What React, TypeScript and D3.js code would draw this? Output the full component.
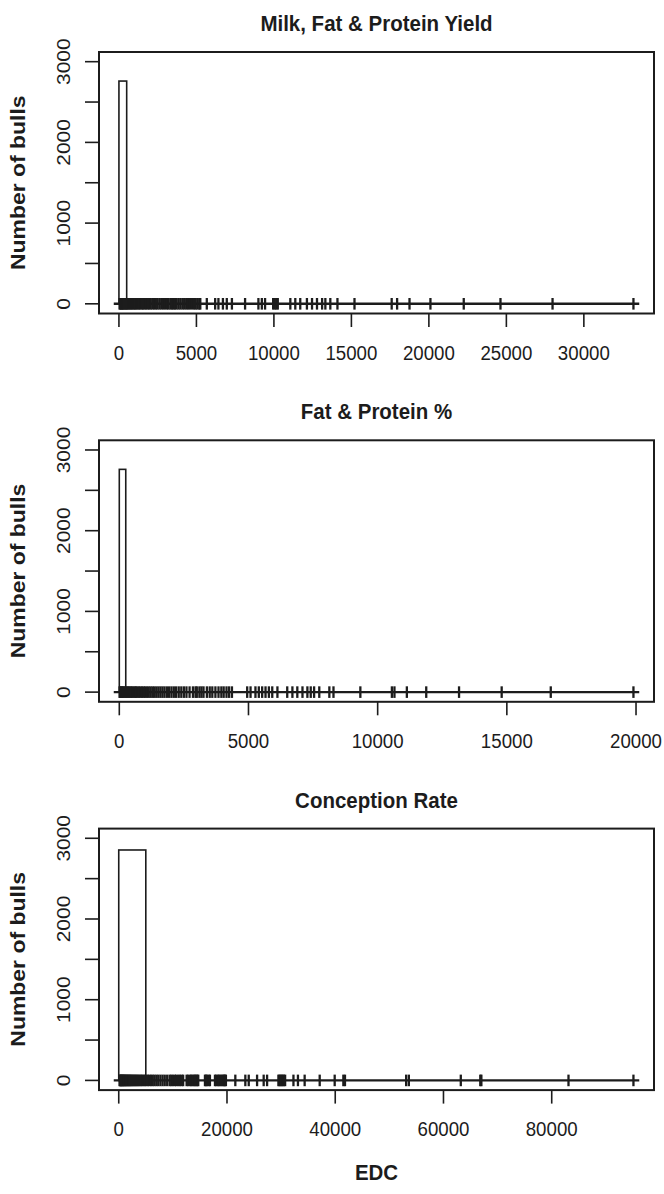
import React from "react";
import * as d3 from "d3";

// EDC of individual bulls, one array per trait group (drawn as "+" strip marks at y = 0)
const milkYieldEDC = [
  40, 90, 140, 190, 240, 290, 350, 410, 470, 530, 600, 670, 740, 810, 880, 960, 1040, 1120, 1200, 1290,
  1380, 1470, 1560, 1650, 1750, 1850, 1950, 2050, 2160, 2270, 2380, 2490, 2610, 2730, 2850, 2970, 3100, 3200,
  3320, 3420, 3520, 3610, 3720, 3840, 3960, 4090, 4210, 4340, 4460, 4580, 4720, 4850, 4950, 5060, 5180, 5250,
  5670, 6210, 6420, 6710, 6960, 7290, 8140, 9000, 9220, 9430, 9950, 10050, 10150, 10250, 11060, 11380,
  11700, 12130, 12460, 12780, 13110, 13320, 13640, 14100, 15200, 17600, 17950, 18750, 20100, 22250, 24620,
  27980, 33200,
];

const fatProteinEDC = [
  10, 40, 70, 100, 130, 160, 200, 240, 280, 320, 360, 400, 450, 500, 550, 600, 650, 700, 760, 820, 880,
  940, 1000, 1070, 1140, 1210, 1280, 1350, 1430, 1510, 1590, 1670, 1750, 1840, 1930, 2020, 2110, 2200,
  2300, 2400, 2500, 2600, 2720, 2850, 2950, 3000, 3100, 3180, 3260, 3390, 3500, 3600, 3720, 3840, 3950,
  4040, 4150, 4250, 4360, 4950, 5080, 5270, 5400, 5530, 5660, 5790, 5920, 6120, 6500, 6700, 6890, 7090,
  7280, 7410, 7540, 7740, 8130, 8290, 9330, 10550, 10650, 11130, 11880, 13150, 14800, 16700, 19900,
];

const conceptionEDC = [
  150, 250, 350, 450, 550, 650, 760, 870, 980, 1100, 1220, 1350, 1480, 1620, 1760, 1900, 2050, 2200, 2360,
  2520, 2700, 2880, 3060, 3250, 3450, 3650, 3870, 4100, 4340, 4580, 4830, 5100, 5380, 5670, 5970, 6280,
  6600, 6950, 7300, 7700, 8100, 8500, 8950, 9400, 9700, 10000, 10370, 10600, 10980, 11300, 11610, 11900,
  12540, 12800, 13150, 13400, 13600, 13900, 14070, 14300, 14500, 14690, 15930, 16100, 16300, 16600, 16850,
  17780, 18000, 18300, 18500, 18800, 19000, 19300, 19450, 19630, 19800, 21540, 23390, 24020, 25560, 26780,
  27410, 29500, 29700, 29900, 30100, 30300, 30500, 30740, 32280, 33110, 34350, 37130, 39900, 41500, 41800,
  53100, 53600, 63200, 66800, 67000, 83100, 95100,
];

// Histogram bins: [lower break, upper break, number of bulls]
const milkYieldBins: [number, number, number][] = [[0, 500, 2760]];
const fatProteinBins: [number, number, number][] = [[0, 250, 2760]];
const conceptionBins: [number, number, number][] = [[0, 5000, 2855]];

// Axis ticks
const milkYieldTicks = [0, 5000, 10000, 15000, 20000, 25000, 30000];
const fatProteinTicks = [0, 5000, 10000, 15000, 20000];
const conceptionTicks = [0, 20000, 40000, 60000, 80000];
const countTicks = [0, 500, 1000, 1500, 2000, 2500, 3000];
const countLabels = [0, 1000, 2000, 3000];

const titles = ["Milk, Fat & Protein Yield", "Fat & Protein %", "Conception Rate"];

const W = 664;
const H = 1194;
const LEFT = 99;
const RIGHT = 654;
const TOP0 = 52;
const STEP = 388.3;
const PH = 261.5;
const SY = 1.12; // vertical stretch of the lettering
const INK = "#1c1c1c";
const FONT = "'Liberation Sans', Arial, Helvetica, sans-serif";

type PanelProps = {
  idx: number;
  title: string;
  values: number[];
  bins: [number, number, number][];
  ticks: number[];
};

function Panel({ idx, title, values, bins, ticks }: PanelProps) {
  const top = TOP0 + idx * STEP;
  const bottom = top + PH;
  const [mn, mx] = d3.extent(values) as [number, number];
  const pad = (mx - mn) * 0.04;
  const x = d3.scaleLinear().domain([mn - pad, mx + pad]).range([LEFT, RIGHT]);
  const y = d3.scaleLinear().domain([-120, 3120]).range([bottom, top]);
  const y0 = y(0);
  const arm = 5.8;
  const cx = (LEFT + RIGHT) / 2;
  const cy = (top + bottom) / 2;

  return (
    <g>
      <text
        transform={`translate(${cx},${top - 21}) scale(1,${SY})`}
        textAnchor="middle"
        fontFamily={FONT}
        fontWeight="bold"
        fontSize={20.5}
        fill={INK}
      >
        {title}
      </text>
      <text
        transform={`translate(25,${cy}) scale(1,${SY}) rotate(-90)`}
        textAnchor="middle"
        fontFamily={FONT}
        fontWeight="bold"
        fontSize={20.5}
        fill={INK}
      >
        Number of bulls
      </text>

      {/* histogram bars */}
      {bins.map(([a, b, n], k) => (
        <rect
          key={k}
          x={x(a)}
          y={y(n)}
          width={x(b) - x(a)}
          height={y0 - y(n)}
          fill="white"
          stroke={INK}
          strokeWidth={1.6}
        />
      ))}

      {/* strip of individual bulls */}
      <line x1={x(mn) - arm} x2={x(mx) + arm} y1={y0} y2={y0} stroke={INK} strokeWidth={2.4} />
      {values.map((v, k) => (
        <line key={k} x1={x(v)} x2={x(v)} y1={y0 - arm} y2={y0 + arm} stroke={INK} strokeWidth={2.3} />
      ))}

      {/* plot frame */}
      <rect x={LEFT} y={top} width={RIGHT - LEFT} height={PH} fill="none" stroke={INK} strokeWidth={2} />

      {/* x axis */}
      {ticks.map((t) => (
        <g key={t}>
          <line x1={x(t)} x2={x(t)} y1={bottom} y2={bottom + 13.5} stroke={INK} strokeWidth={1.6} />
          <text
            transform={`translate(${x(t)},${bottom + 46}) scale(1,${SY})`}
            textAnchor="middle"
            fontFamily={FONT}
            fontSize={18.7}
            fill={INK}
          >
            {t}
          </text>
        </g>
      ))}

      {/* y axis */}
      {countTicks.map((t) => (
        <line key={t} x1={LEFT - 14} x2={LEFT} y1={y(t)} y2={y(t)} stroke={INK} strokeWidth={1.6} />
      ))}
      {countLabels.map((t) => (
        <text
          key={t}
          transform={`translate(70,${y(t)}) scale(1,${SY}) rotate(-90)`}
          textAnchor="middle"
          fontFamily={FONT}
          fontSize={18.7}
          fill={INK}
        >
          {t}
        </text>
      ))}
    </g>
  );
}

export default function App() {
  return (
    <svg
      width={W}
      height={H}
      viewBox={`0 0 ${W} ${H}`}
      style={{ position: "absolute", left: 0, top: 0, display: "block", background: "white" }}
    >
      <rect width={W} height={H} fill="white" />
      <Panel idx={0} title={titles[0]} values={milkYieldEDC} bins={milkYieldBins} ticks={milkYieldTicks} />
      <Panel idx={1} title={titles[1]} values={fatProteinEDC} bins={fatProteinBins} ticks={fatProteinTicks} />
      <Panel idx={2} title={titles[2]} values={conceptionEDC} bins={conceptionBins} ticks={conceptionTicks} />
      <text
        transform={`translate(${(LEFT + RIGHT) / 2},1180) scale(1,${SY})`}
        textAnchor="middle"
        fontFamily={FONT}
        fontWeight="bold"
        fontSize={20.5}
        fill={INK}
      >
        EDC
      </text>
    </svg>
  );
}
